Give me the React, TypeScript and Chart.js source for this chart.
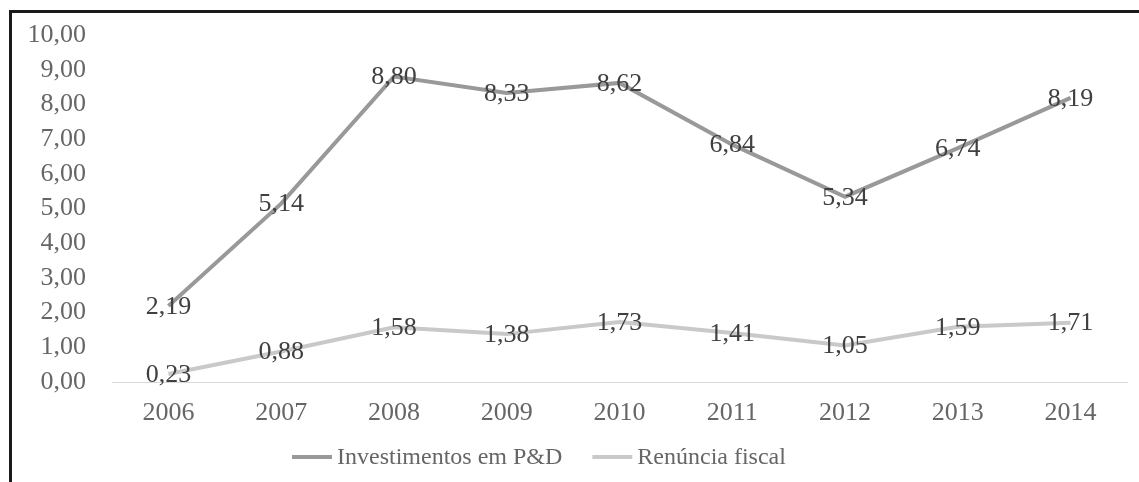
import React, { useEffect, useRef } from "react";
import { Chart, registerables } from "chart.js";

Chart.register(...registerables);

const years = ["2006", "2007", "2008", "2009", "2010", "2011", "2012", "2013", "2014"];
const investimentos = [2.19, 5.14, 8.8, 8.33, 8.62, 6.84, 5.34, 6.74, 8.19];
const renuncia = [0.23, 0.88, 1.58, 1.38, 1.73, 1.41, 1.05, 1.59, 1.71];
const seriesNames = ["Investimentos em P&D", "Renúncia fiscal"];
const seriesColors = ["#999999", "#c9c9c9"];

const FONT = '"Liberation Serif", "Times New Roman", serif';
const TICK_TEXT = "#666666";
const LABEL_TEXT = "#404040";
const fmt = (v: number) => v.toFixed(2).replace(".", ",");

const valueLabels = {
  id: "valueLabels",
  afterDatasetsDraw(chart: any) {
    const ctx = chart.ctx;
    ctx.save();
    ctx.font = `26px ${FONT}`;
    ctx.fillStyle = LABEL_TEXT;
    ctx.textAlign = "center";
    ctx.textBaseline = "middle";
    chart.data.datasets.forEach((ds: any, i: number) => {
      const meta = chart.getDatasetMeta(i);
      meta.data.forEach((pt: any, j: number) => {
        ctx.fillText(fmt(ds.data[j]), pt.x, pt.y + 1);
      });
    });
    ctx.restore();
  },
};

// Legend drawn below the x axis: line sample + text for each dataset
const lineLegend = {
  id: "lineLegend",
  afterDraw(chart: any) {
    const ctx = chart.ctx;
    const sample = 40;
    const gap = 5;
    const itemGap = 30;
    const y = chart.chartArea.bottom + 75;
    let x = 280;
    ctx.save();
    ctx.font = `24px ${FONT}`;
    ctx.textBaseline = "middle";
    ctx.textAlign = "left";
    chart.data.datasets.forEach((ds: any) => {
      ctx.strokeStyle = ds.borderColor;
      ctx.lineWidth = 4;
      ctx.beginPath();
      ctx.moveTo(x, y);
      ctx.lineTo(x + sample, y);
      ctx.stroke();
      x += sample + gap;
      ctx.fillStyle = TICK_TEXT;
      ctx.fillText(ds.label, x, y + 1);
      x += ctx.measureText(ds.label).width + itemGap;
    });
    ctx.restore();
  },
};

export default function App() {
  const ref = useRef<HTMLCanvasElement>(null);
  useEffect(() => {
    const chart = new Chart(ref.current!, {
      type: "line",
      data: {
        labels: years,
        datasets: [
          {
            label: seriesNames[0],
            data: investimentos,
            borderColor: seriesColors[0],
            backgroundColor: seriesColors[0],
            borderWidth: 4,
            pointRadius: 0,
            tension: 0,
          },
          {
            label: seriesNames[1],
            data: renuncia,
            borderColor: seriesColors[1],
            backgroundColor: seriesColors[1],
            borderWidth: 4,
            pointRadius: 0,
            tension: 0,
          },
        ],
      },
      options: {
        animation: false,
        responsive: false,
        maintainAspectRatio: false,
        layout: { padding: { top: 22, right: 12, left: 0, bottom: 51 } },
        plugins: {
          tooltip: { enabled: false },
          legend: { display: false },
        },
        scales: {
          x: {
            offset: true,
            grid: { display: false, drawTicks: false },
            border: { display: true, color: "#d9d9d9", width: 1 },
            afterFit: (s: any) => {
              s.height = 49;
            },
            ticks: { font: { family: FONT, size: 26 }, color: TICK_TEXT, padding: 16 },
          },
          y: {
            min: 0,
            max: 10,
            grid: { display: false, drawTicks: false },
            border: { display: false },
            afterFit: (s: any) => {
              s.width = 100;
              s.paddingTop = 0;
              s.paddingBottom = 0;
            },
            ticks: {
              stepSize: 1,
              autoSkip: false,
              padding: 26,
              font: { family: FONT, size: 26 },
              color: TICK_TEXT,
              callback: (v: any) => fmt(Number(v)),
            },
          },
        },
      },
      plugins: [valueLabels, lineLegend],
    });
    return () => chart.destroy();
  }, []);

  return (
    <div style={{ position: "fixed", inset: 0, overflow: "hidden", background: "#fff" }}>
      <div
        style={{
          position: "absolute",
          left: 9,
          top: 10,
          width: 1200,
          height: 520,
          borderTop: "3px solid #1a1a1a",
          borderLeft: "3px solid #1a1a1a",
        }}
      >
        <canvas ref={ref} width={1127} height={469} style={{ display: "block" }} />
      </div>
    </div>
  );
}
